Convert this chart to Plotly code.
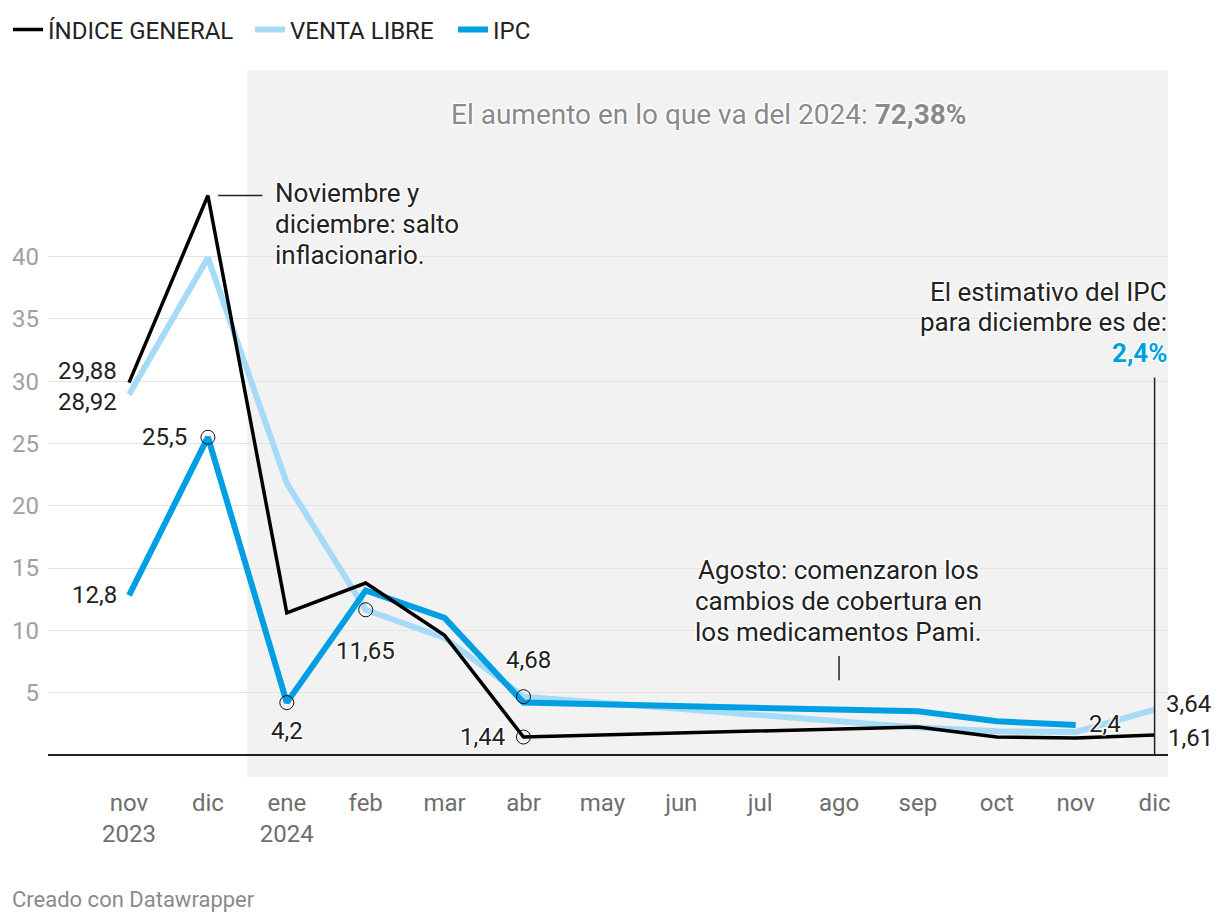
import plotly.graph_objects as go

# ---------------- data ----------------
months = ["nov<br>2023", "dic", "ene<br>2024", "feb", "mar", "abr", "may",
          "jun", "jul", "ago", "sep", "oct", "nov", "dic"]
general = [29.88, 44.9, 11.4, 13.8, 9.6, 1.44, None, None, None, None, 2.25, 1.45, 1.35, 1.61]
venta_libre = [28.92, 39.9, 21.8, 11.65, 9.4, 4.68, None, None, None, None, 2.2, 1.9, 1.85, 3.64]
ipc = [12.8, 25.5, 4.2, 13.2, 11.0, 4.2, None, None, None, None, 3.5, 2.7, 2.4, None]
y_ticks = [5, 10, 15, 20, 25, 30, 35, 40]

# ---------------- style ----------------
OFF = 8                      # page body margin
W, H = 1220 - OFF, 924 - OFF
# plot area in screen pixels
SL, SR, ST, SB = 48, 1168, 70, 777
FONT = "Roboto"
BLACK = "#000000"
LIGHT = "#a6dbf7"
BLUE = "#009fe3"
TXT = "#222222"
HALO = "1px 1px 1px #fff, -1px -1px 1px #fff, 1px -1px 1px #fff, -1px 1px 1px #fff, 0 0 3px #fff"

x = list(range(len(months)))


def px(s):
    return (s - SL) / (SR - SL)


def py(s):
    return (SB - s) / (SB - ST)


fig = go.Figure()

fig.add_trace(go.Scatter(x=x, y=venta_libre, mode="lines", name="VENTA LIBRE",
                         line=dict(color=LIGHT, width=6), connectgaps=True, legend="legend2"))
fig.add_trace(go.Scatter(x=x, y=ipc, mode="lines", name="IPC",
                         line=dict(color=BLUE, width=6), connectgaps=True, legend="legend3"))
fig.add_trace(go.Scatter(x=x, y=general, mode="lines", name="ÍNDICE GENERAL",
                         line=dict(color=BLACK, width=3.5), connectgaps=True, legend="legend"))

# highlighted points (open circles)
hx = [1, 2, 3, 5, 5]
hy = [ipc[1], ipc[2], venta_libre[3], venta_libre[5], general[5]]
fig.add_trace(go.Scatter(x=hx, y=hy, mode="markers", showlegend=False, hoverinfo="skip",
                         marker=dict(size=14, color="rgba(0,0,0,0)",
                                     line=dict(color="#111", width=1))))


def fmt(v):
    return ("%g" % v).replace(".", ",")


# data labels: (x index, value, xanchor, xshift, yshift)
labels = [
    (0, general[0], "right", -10, 12),
    (0, venta_libre[0], "right", -10, -7),
    (0, ipc[0], "right", -10, 0),
    (1, ipc[1], "right", -19, 0),
    (2, ipc[2], "center", 0, -28),
    (3, venta_libre[3], "center", 0, -41),
    (5, venta_libre[5], "center", 5, 37),
    (5, general[5], "right", -16, 0),
    (12, ipc[12], "left", 11, 1),
    (13, venta_libre[13], "left", 9, 6),
    (13, general[13], "left", 11, -3),
]
for xi, v, xa, xs, ys in labels:
    fig.add_annotation(x=xi, y=v, xref="x", yref="y", text=fmt(v), showarrow=False,
                       xanchor=xa, yanchor="middle", xshift=xs, yshift=ys,
                       font=dict(family=FONT, size=24, color=TXT, shadow=HALO))


def text_lines(lines, xpix, ypix_list, anchor, size=26, color=TXT, halo=True):
    for t, yy in zip(lines, ypix_list):
        f = dict(family=FONT, size=size, color=color)
        if halo:
            f["shadow"] = HALO
        fig.add_annotation(x=px(xpix), y=py(yy), xref="paper", yref="paper", text=t,
                           showarrow=False, xanchor=anchor, yanchor="middle", font=f)


text_lines(["Noviembre y", "diciembre: salto", "inflacionario."], 273, [193, 224, 255], "left")
text_lines(["Agosto: comenzaron los", "cambios de cobertura en", "los medicamentos Pami."],
           838, [570, 601, 632], "center")
text_lines(["El estimativo del IPC", "para diciembre es de:"], 1169, [292, 322], "right")
text_lines(["<b>2,4%</b>"], 1169, [353], "right", color=BLUE)
text_lines(["El aumento en lo que va del 2024: <b>72,38%</b>"], 709, [114], "center",
           size=28, color="#8a8a8a")
text_lines(["Creado con Datawrapper"], 10, [900], "left", size=22, color="#8a8a8a", halo=False)

shapes = [
    # highlighted 2024 range
    dict(type="rect", xref="x", yref="paper", x0=1.5, x1=13.17, y0=0, y1=1,
         fillcolor="#f2f2f2", line=dict(width=0), layer="below"),
    # baseline
    dict(type="line", xref="paper", yref="y", x0=0, x1=1, y0=0, y1=0,
         line=dict(color="#222", width=2), layer="above"),
    # pointer Noviembre
    dict(type="line", xref="x", yref="y", x0=1.13, x1=1.69, y0=general[1], y1=general[1],
         line=dict(color="#222", width=1.5)),
    # pointer Agosto
    dict(type="line", xref="x", yref="y", x0=9, x1=9, y0=6.0, y1=7.95,
         line=dict(color="#222", width=1.5)),
    # pointer estimativo
    dict(type="line", xref="x", yref="y", x0=13, x1=13, y0=0, y1=30.3,
         line=dict(color="#222", width=1.5)),
]


def leg(xscreen):
    return dict(orientation="h", xref="container", yref="container",
                x=(xscreen - OFF) / W, y=1 - (30 - OFF) / H, xanchor="left", yanchor="middle",
                font=dict(family=FONT, size=24, color=TXT),
                bgcolor="rgba(0,0,0,0)", itemwidth=30)


fig.update_layout(
    width=W, height=H,
    margin=dict(l=SL - OFF, r=W - (SR - OFF), t=ST - OFF, b=H - (SB - OFF), autoexpand=False),
    paper_bgcolor="white", plot_bgcolor="white",
    font=dict(family=FONT, size=20, color=TXT),
    shapes=shapes,
    showlegend=True,
    legend=leg(4),
    legend2=leg(250),
    legend3=leg(453),
    hovermode=False,
)

fig.update_xaxes(range=[-1.027, 13.17], tickmode="array", tickvals=x, ticktext=months,
                 showgrid=False, zeroline=False, showline=False, ticks="", automargin=False,
                 tickfont=dict(family=FONT, size=24, color="#6e6e6e"), ticklabelstandoff=9)
fig.update_yaxes(range=[-1.77, 54.97], tickmode="array", tickvals=y_ticks,
                 ticktext=[str(v) for v in y_ticks],
                 showgrid=True, gridcolor="#e3e3e3", gridwidth=1, zeroline=False,
                 showline=False, ticks="", automargin=False,
                 tickfont=dict(family=FONT, size=24, color="#a0a0a0"), ticklabelstandoff=8)

fig.write_html("out.html")
